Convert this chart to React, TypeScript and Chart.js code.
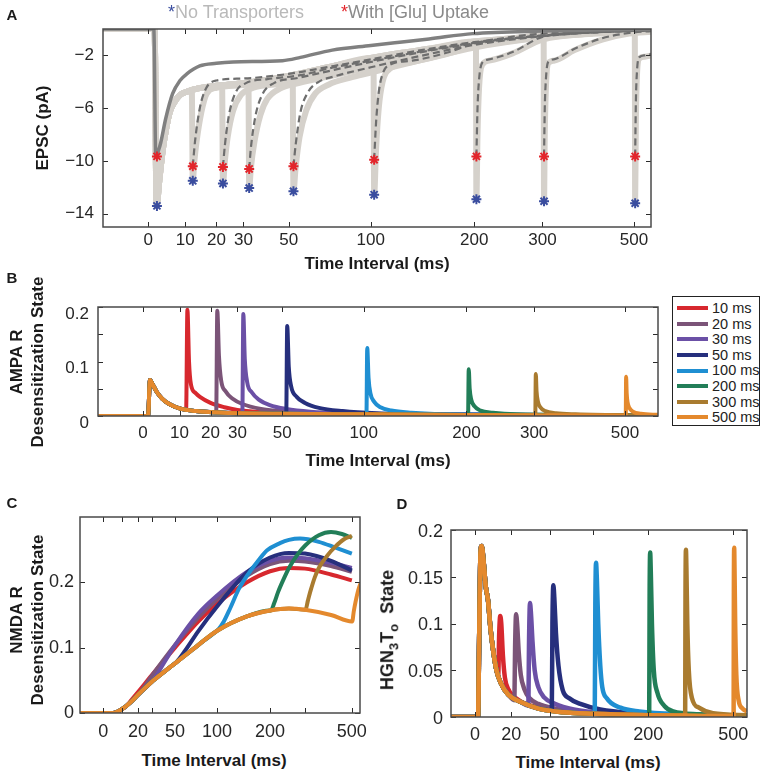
import React, { useEffect, useRef } from "react";
import { Chart, registerables } from "chart.js";

Chart.register(...registerables);

const FONT = '"Liberation Sans", Arial, Helvetica, sans-serif';
Chart.defaults.font.family = FONT;

type Pt = [number, number];

// ---------- shared ----------
const SHIFT = 50; // time axes are logarithmic in (time + 50 ms)
const INTERVALS = [10, 20, 30, 50, 100, 200, 300, 500];
const SERIES_NAMES = INTERVALS.map((i) => `${i} ms`);
const SERIES_COLORS = ["#d7282e", "#7b5478", "#6b50a6", "#262f7d", "#1f8fd2", "#227e58", "#a97b2f", "#e4892d"];
const X_TICKS_FULL = [0, 10, 20, 30, 50, 100, 200, 300, 500];
const X_LABELS_SPARSE = [0, 20, 50, 100, 200, 500];

// ---------- A : EPSC ----------
const A_Y_TICKS = [-2, -6, -10, -14];
const A_PEAK_TIMES = [2.2, 12.3, 22.3, 32.3, 52.4, 102.5, 202.6, 302.7, 503];
const A_PEAK_NO_TRANSPORTERS = [-13.4, -11.5, -11.7, -12.05, -12.3, -12.55, -12.9, -13.05, -13.2];
const A_PEAK_UPTAKE = [-9.65, -10.4, -10.45, -10.6, -10.4, -9.9, -9.65, -9.65, -9.65];

const A_NT_FIRST: Pt[] = [[-10, 0], [1.6, 0], [2.1, -13.4], [2.8, -11.5], [3.7, -9.2], [4.6, -7.6], [5.6, -6.3], [7, -5.5], [8.5, -5.0], [10.5, -4.75], [14, -4.5], [20, -4.3], [30, -4.1], [40, -3.85], [50, -3.55], [75, -2.8], [100, -2.2], [125, -1.8], [150, -1.5], [200, -0.95], [250, -0.7], [300, -0.5], [400, -0.3], [500, -0.2], [550, -0.15]];
const A_NT_10: Pt[] = [[12, -4.65], [12.3, -11.5], [12.8, -10], [13.5, -8.5], [15, -6.3], [16.7, -4.9], [20, -4.45], [30, -4.25], [50, -3.8], [75, -3.1], [100, -2.5], [150, -1.7], [200, -1.1], [300, -0.55], [400, -0.3], [550, -0.15]];
const A_NT_20: Pt[] = [[22, -4.25], [22.3, -11.7], [23, -10], [24, -8.2], [26, -6.2], [29, -5], [34, -4.45], [45, -4.15], [60, -3.6], [80, -3], [100, -2.6], [150, -1.8], [200, -1.2], [300, -0.6], [400, -0.3], [550, -0.15]];
const A_NT_30: Pt[] = [[32, -4.08], [32.3, -12.05], [33, -10.5], [34.5, -8.5], [37, -6.5], [40, -5.3], [46, -4.5], [55, -4.1], [75, -3.5], [100, -2.9], [150, -1.9], [200, -1.3], [300, -0.6], [400, -0.3], [550, -0.15]];
const A_NT_50: Pt[] = [[52, -3.5], [52.4, -12.3], [53.5, -10.5], [55.5, -8.2], [59, -6.2], [64, -4.9], [72, -4.2], [85, -3.7], [100, -3.3], [150, -2.2], [200, -1.4], [300, -0.65], [400, -0.35], [550, -0.15]];
const A_NT_100: Pt[] = [[102, -2.2], [102.5, -12.55], [104, -9], [106, -6], [109, -4], [115, -3], [134, -2.5], [168, -1.9], [200, -1.3], [250, -0.8], [300, -0.5], [400, -0.3], [550, -0.15]];
const A_NT_200: Pt[] = [[202, -0.95], [202.6, -12.9], [204, -8], [206, -4.4], [210, -2.7], [219, -2.4], [252, -1.85], [300, -0.8], [400, -0.35], [550, -0.15]];
const A_NT_300: Pt[] = [[302, -0.5], [302.7, -13.05], [304, -8], [306, -4.5], [310, -2.6], [320, -2.4], [360, -1.6], [420, -0.8], [487, -0.35], [550, -0.2]];
const A_NT_500: Pt[] = [[502, -0.2], [503, -13.2], [505, -7], [508, -3.5], [514, -2.25], [530, -2.1], [550, -2.0]];
const A_NT_SECOND = [A_NT_10, A_NT_20, A_NT_30, A_NT_50, A_NT_100, A_NT_200, A_NT_300, A_NT_500];

const A_UP_FIRST: Pt[] = [[-10, 0], [1.4, 0], [1.9, -9.65], [2.6, -9.2], [3.2, -8.6], [4.5, -6.8], [6.4, -4.9], [8.5, -3.9], [10.5, -3.4], [14.5, -2.8], [20, -2.6], [26, -2.5], [47, -2.4], [56, -2.15], [74, -1.6], [100, -1.25], [123, -1.0], [150, -0.75], [198, -0.35], [300, -0.15], [400, -0.08], [550, -0.03]];
// uptake responses after the second pulse (start at the red-marked peak)
const A_UP_10: Pt[] = [[12.3, -10.4], [13, -8.5], [14.5, -6], [16.5, -4.5], [20, -3.9], [30, -3.75], [50, -3.4], [75, -2.8], [100, -2.3], [150, -1.5], [200, -1.0], [300, -0.5], [400, -0.25], [550, -0.1]];
const A_UP_20: Pt[] = [[22.3, -10.45], [23, -8.8], [24.5, -6.5], [27, -4.8], [31, -4.1], [40, -3.8], [56, -3.5], [75, -2.9], [100, -2.4], [150, -1.6], [200, -1.05], [300, -0.5], [400, -0.25], [550, -0.1]];
const A_UP_30: Pt[] = [[32.3, -10.6], [33, -9], [35, -6.5], [38, -4.9], [43, -4.1], [55, -3.7], [75, -3.1], [100, -2.5], [150, -1.65], [200, -1.1], [300, -0.5], [400, -0.25], [550, -0.1]];
const A_UP_50: Pt[] = [[52.4, -10.4], [53.5, -8.8], [56, -6.3], [60, -4.8], [66, -4.0], [75, -3.6], [100, -2.9], [150, -1.9], [200, -1.2], [300, -0.55], [400, -0.25], [550, -0.1]];
const A_UP_100: Pt[] = [[102.5, -9.9], [104, -7], [106, -4.8], [109, -3.4], [115, -2.7], [134, -2.4], [168, -1.8], [200, -1.1], [250, -0.6], [300, -0.35], [400, -0.2], [550, -0.1]];
const A_UP_200: Pt[] = [[202.6, -9.65], [204, -6], [206, -3.8], [210, -2.55], [219, -2.3], [252, -1.75], [300, -0.6], [400, -0.25], [550, -0.1]];
const A_UP_300: Pt[] = [[302.7, -9.65], [304, -6], [306, -3.8], [310, -2.5], [320, -2.3], [360, -1.5], [420, -0.7], [487, -0.3], [550, -0.15]];
const A_UP_500: Pt[] = [[503, -9.65], [505, -5.5], [508, -3.2], [514, -2.15], [530, -2.0], [550, -1.9]];
const A_UP_SECOND = [A_UP_10, A_UP_20, A_UP_30, A_UP_50, A_UP_100, A_UP_200, A_UP_300, A_UP_500];

// ---------- B : AMPA R desensitization ----------
const B_Y_TICKS = [0, 0.05, 0.1, 0.15, 0.2];
const B_Y_LABELS = [0, 0.1, 0.2];
const B_FIRST: Pt[] = [[-10, 0], [1.3, 0], [1.8, 0.066], [2.5, 0.058], [3.5, 0.045], [5, 0.032], [7, 0.022], [10, 0.014], [15, 0.009], [25, 0.006], [50, 0.004], [100, 0.003], [200, 0.002], [300, 0.0015], [600, 0.001]];
const B_10: Pt[] = [[12, 0.012], [12.4, 0.195], [12.9, 0.1], [13.5, 0.058], [15, 0.042], [16.4, 0.035], [20, 0.024], [25, 0.016], [30, 0.011], [40, 0.007], [60, 0.004], [100, 0.003], [200, 0.002], [600, 0.001]];
const B_20: Pt[] = [[22, 0.007], [22.4, 0.193], [23, 0.11], [23.8, 0.065], [25.5, 0.045], [28, 0.032], [32, 0.022], [40, 0.013], [50, 0.009], [70, 0.005], [100, 0.003], [200, 0.002], [600, 0.001]];
const B_30: Pt[] = [[32, 0.005], [32.4, 0.187], [33, 0.105], [34, 0.062], [36, 0.043], [39, 0.03], [44, 0.02], [52, 0.013], [65, 0.008], [90, 0.005], [150, 0.003], [600, 0.001]];
const B_50: Pt[] = [[52, 0.004], [52.5, 0.165], [53.3, 0.09], [54.5, 0.055], [57.5, 0.035], [62, 0.024], [70, 0.015], [85, 0.009], [110, 0.005], [170, 0.003], [600, 0.001]];
const B_100: Pt[] = [[102, 0.003], [102.6, 0.125], [103.6, 0.07], [105, 0.042], [108, 0.026], [113, 0.016], [122, 0.01], [140, 0.006], [180, 0.003], [600, 0.001]];
const B_200: Pt[] = [[202, 0.002], [202.8, 0.086], [204, 0.05], [206, 0.03], [210, 0.018], [218, 0.01], [235, 0.006], [270, 0.003], [600, 0.001]];
const B_300: Pt[] = [[302, 0.0015], [302.9, 0.077], [304.2, 0.045], [306.5, 0.027], [311, 0.016], [320, 0.009], [340, 0.005], [380, 0.003], [600, 0.001]];
const B_500: Pt[] = [[502, 0.001], [503, 0.072], [504.5, 0.042], [507, 0.025], [512, 0.015], [522, 0.008], [545, 0.004], [600, 0.002]];
const B_SECOND = [B_10, B_20, B_30, B_50, B_100, B_200, B_300, B_500];

// ---------- C : NMDA R desensitization ----------
const C_Y_TICKS = [0, 0.1, 0.2];
const C_FIRST: Pt[] = [[-10, 0], [5, 0], [10, 0.006], [15, 0.016], [20, 0.028], [30, 0.048], [40, 0.063], [50, 0.076], [75, 0.104], [100, 0.126], [150, 0.148], [200, 0.157], [250, 0.16], [300, 0.158], [400, 0.15], [500, 0.14]];
const C_10: Pt[] = [[-10, 0], [5, 0], [10, 0.006], [12, 0.009], [15, 0.018], [20, 0.032], [30, 0.058], [50, 0.1], [75, 0.14], [100, 0.167], [150, 0.2], [200, 0.217], [250, 0.222], [300, 0.221], [400, 0.212], [500, 0.203]];
const C_20: Pt[] = [[-10, 0], [5, 0], [10, 0.006], [15, 0.016], [20, 0.028], [22, 0.033], [30, 0.057], [50, 0.104], [75, 0.146], [100, 0.174], [150, 0.21], [200, 0.228], [250, 0.233], [300, 0.232], [400, 0.225], [500, 0.216]];
const C_30: Pt[] = [[-10, 0], [5, 0], [10, 0.006], [15, 0.016], [20, 0.028], [30, 0.048], [32, 0.053], [40, 0.077], [50, 0.104], [75, 0.152], [100, 0.18], [150, 0.216], [200, 0.233], [250, 0.238], [300, 0.237], [400, 0.23], [500, 0.222]];
const C_50: Pt[] = [[-10, 0], [5, 0], [10, 0.006], [15, 0.016], [20, 0.028], [30, 0.048], [40, 0.063], [50, 0.076], [52, 0.079], [60, 0.095], [75, 0.125], [100, 0.163], [150, 0.215], [200, 0.238], [250, 0.245], [300, 0.244], [400, 0.233], [500, 0.218]];
const C_100: Pt[] = [[102, 0.128], [110, 0.14], [120, 0.16], [135, 0.19], [150, 0.21], [175, 0.235], [193, 0.249], [225, 0.26], [250, 0.265], [284, 0.267], [350, 0.262], [420, 0.253], [500, 0.244]];
const C_200: Pt[] = [[202, 0.157], [210, 0.168], [220, 0.185], [235, 0.205], [250, 0.222], [275, 0.242], [300, 0.256], [350, 0.272], [400, 0.277], [450, 0.274], [500, 0.268]];
const C_300: Pt[] = [[302, 0.158], [310, 0.172], [320, 0.188], [335, 0.208], [350, 0.222], [382, 0.24], [420, 0.255], [460, 0.266], [500, 0.271]];
const C_500: Pt[] = [[502, 0.14], [510, 0.155], [520, 0.17], [535, 0.188], [550, 0.2]];

// ---------- D : HGN3To state ----------
const D_Y_TICKS = [0, 0.05, 0.1, 0.15, 0.2];
const D_FIRST: Pt[] = [[-10, 0], [1.4, 0], [2, 0.09], [2.6, 0.175], [3.2, 0.183], [4.2, 0.165], [5.2, 0.14], [6.4, 0.125], [7.7, 0.095], [9.1, 0.072], [11, 0.05], [13.6, 0.036], [18, 0.024], [26.5, 0.016], [40, 0.009], [64, 0.005], [100, 0.0035], [200, 0.002], [300, 0.0015], [500, 0.001]];
const D_10: Pt[] = [[12, 0.044], [12.6, 0.09], [13.2, 0.108], [13.8, 0.1], [14.8, 0.065], [16, 0.042], [18, 0.03], [21, 0.023], [26, 0.017], [32, 0.013], [45, 0.009], [70, 0.005], [120, 0.003], [250, 0.0018], [575, 0.001]];
const D_20: Pt[] = [[22, 0.018], [22.6, 0.08], [23.2, 0.11], [23.9, 0.1], [25, 0.07], [26.5, 0.045], [29, 0.03], [33, 0.02], [40, 0.014], [55, 0.009], [80, 0.005], [150, 0.003], [300, 0.0015], [575, 0.001]];
const D_30: Pt[] = [[32, 0.012], [32.6, 0.085], [33.3, 0.122], [34, 0.112], [35.3, 0.08], [37, 0.05], [40, 0.032], [45, 0.021], [55, 0.014], [75, 0.008], [120, 0.004], [300, 0.0018], [575, 0.001]];
const D_50: Pt[] = [[52, 0.007], [52.6, 0.1], [53.5, 0.141], [54.4, 0.128], [56, 0.09], [58.5, 0.055], [62.8, 0.029], [70, 0.02], [83, 0.014], [110, 0.008], [170, 0.004], [300, 0.002], [575, 0.001]];
const D_100: Pt[] = [[102, 0.004], [102.8, 0.12], [103.8, 0.165], [105, 0.148], [107, 0.1], [110, 0.055], [113, 0.032], [120, 0.02], [143, 0.01], [180, 0.006], [300, 0.003], [575, 0.0015]];
const D_200: Pt[] = [[202, 0.002], [203, 0.13], [204.3, 0.176], [205.8, 0.155], [208.5, 0.1], [213, 0.05], [222, 0.026], [240, 0.012], [265, 0.006], [350, 0.003], [575, 0.0015]];
const D_300: Pt[] = [[302, 0.0015], [303, 0.13], [304.5, 0.179], [306, 0.16], [309, 0.1], [314, 0.05], [325, 0.02], [350, 0.01], [406, 0.004], [575, 0.002]];
const D_500: Pt[] = [[502, 0.001], [503.2, 0.13], [504.8, 0.181], [506.5, 0.16], [510, 0.1], [516, 0.045], [528, 0.018], [550, 0.009], [575, 0.006]];
const D_SECOND = [D_10, D_20, D_30, D_50, D_100, D_200, D_300, D_500];

// ---------- helpers ----------
const toXY = (arr: Pt[]) => arr.map(([t, v]) => ({ x: t + SHIFT, y: v }));
const splice = (first: Pt[], second: Pt[]) => [...first.filter((p) => p[0] < second[0][0]), ...second];

function makeFrame(xTicks: number[], yTicks: number[]) {
  return {
    id: "frame",
    afterDatasetsDraw(chart: any) {
      const { ctx, chartArea: ca, scales } = chart;
      ctx.save();
      ctx.strokeStyle = "#2b2b2b";
      ctx.lineWidth = 1;
      ctx.beginPath();
      for (const t of xTicks) {
        const px = Math.round(scales.x.getPixelForValue(t + SHIFT)) + 0.5;
        ctx.moveTo(px, ca.bottom);
        ctx.lineTo(px, ca.bottom - 5);
        ctx.moveTo(px, ca.top);
        ctx.lineTo(px, ca.top + 5);
      }
      for (const v of yTicks) {
        const py = Math.round(scales.y.getPixelForValue(v)) + 0.5;
        ctx.moveTo(ca.left, py);
        ctx.lineTo(ca.left + 5, py);
        ctx.moveTo(ca.right, py);
        ctx.lineTo(ca.right - 5, py);
      }
      ctx.stroke();
      ctx.lineWidth = 1.5;
      ctx.strokeStyle = "#4a4a4a";
      ctx.strokeRect(ca.left, ca.top, ca.right - ca.left, ca.bottom - ca.top);
      ctx.restore();
    },
  };
}

type Spec = {
  datasets: any[];
  padding: any;
  xMax: number;
  xTicks: number[];
  xLabels: number[];
  yMin: number;
  yMax: number;
  yTicks: number[];
  yFmt: (v: number) => string;
  yWidth: number;
  xHeight: number;
  font: number;
  xPad: number;
  yPad: number;
  yOffset: number;
};

function buildConfig(s: Spec): any {
  // later datasets are painted on top of earlier ones
  const datasets = s.datasets.map((d, i) => ({ ...d, order: -i }));
  return {
    type: "line",
    data: { datasets },
    plugins: [makeFrame(s.xTicks, s.yTicks)],
    options: {
      responsive: false,
      animation: false,
      events: [],
      layout: { padding: s.padding },
      plugins: { legend: { display: false }, tooltip: { enabled: false } },
      elements: {
        point: { radius: 0 },
        line: { cubicInterpolationMode: "monotone", borderCapStyle: "butt", borderJoinStyle: "round" },
      },
      scales: {
        x: {
          type: "logarithmic",
          min: -10 + SHIFT,
          max: s.xMax + SHIFT,
          grid: { display: false, drawTicks: false },
          border: { display: false },
          afterBuildTicks: (sc: any) => {
            sc.ticks = s.xTicks.map((t) => ({ value: t + SHIFT }));
          },
          afterFit: (sc: any) => {
            sc.height = s.xHeight;
          },
          ticks: {
            autoSkip: false,
            maxRotation: 0,
            minRotation: 0,
            padding: s.xPad,
            color: "#262626",
            font: { size: s.font },
            callback: (v: any) => {
              const t = Math.round(Number(v) - SHIFT);
              return s.xLabels.includes(t) ? String(t) : "";
            },
          },
        },
        y: {
          type: "linear",
          min: s.yMin,
          max: s.yMax,
          grid: { display: false, drawTicks: false },
          border: { display: false },
          afterBuildTicks: (sc: any) => {
            sc.ticks = s.yTicks.map((v) => ({ value: v }));
          },
          afterFit: (sc: any) => {
            sc.width = s.yWidth;
          },
          ticks: {
            padding: s.yPad,
            labelOffset: s.yOffset,
            color: "#262626",
            font: { size: s.font },
            callback: (v: any) => s.yFmt(Number(v)),
          },
        },
      },
    },
  };
}

const fmtNum = (v: number) => (Math.abs(v) < 1e-9 ? "0" : String(+v.toFixed(2)));
const fmtNeg = (v: number) => (v < 0 ? "\u2212" + String(Math.abs(v)) : String(v));

// ---------- panel builders ----------
function configA() {
  const datasets: any[] = [];
  A_NT_SECOND.forEach((sec) => {
    datasets.push({ data: toXY(splice(A_NT_FIRST, sec)), borderColor: "#d5d1cb", borderWidth: 6 });
  });
  A_UP_SECOND.forEach((sec) => {
    datasets.push({ data: toXY(sec), borderColor: "#6e6e6e", borderWidth: 2.2, borderDash: [7, 4] });
  });
  datasets.push({ data: toXY(A_UP_FIRST), borderColor: "#808080", borderWidth: 3.5 });
  datasets.push({
    data: toXY(A_PEAK_TIMES.map((t, i) => [t, A_PEAK_UPTAKE[i]] as Pt)),
    showLine: false,
    pointStyle: "star",
    pointRadius: 5,
    borderColor: "#e3252b",
    borderWidth: 2,
  });
  datasets.push({
    data: toXY(A_PEAK_TIMES.map((t, i) => [t, A_PEAK_NO_TRANSPORTERS[i]] as Pt)),
    showLine: false,
    pointStyle: "star",
    pointRadius: 5,
    borderColor: "#3a4d9f",
    borderWidth: 2,
  });
  return buildConfig({
    datasets,
    padding: { top: 29, right: 116, left: 0, bottom: 0 },
    xMax: 548,
    xTicks: X_TICKS_FULL,
    xLabels: X_TICKS_FULL,
    yMin: -15,
    yMax: 0,
    yTicks: A_Y_TICKS,
    yFmt: fmtNeg,
    yWidth: 103,
    xHeight: 28,
    font: 17,
    xPad: 3,
    yPad: 9,
    yOffset: 0,
  });
}

function configB() {
  const datasets = B_SECOND.map((sec, i) => ({
    data: toXY(splice(B_FIRST, sec)),
    borderColor: SERIES_COLORS[i],
    borderWidth: 4,
  }));
  return buildConfig({
    datasets,
    padding: { top: 47, right: 109, left: 0, bottom: 0 },
    xMax: 598,
    xTicks: X_TICKS_FULL,
    xLabels: X_TICKS_FULL,
    yMin: 0,
    yMax: 0.2,
    yTicks: B_Y_TICKS,
    yFmt: (v) => (B_Y_LABELS.some((l) => Math.abs(l - v) < 1e-9) ? fmtNum(v) : ""),
    yWidth: 98,
    xHeight: 30,
    font: 17,
    xPad: 7,
    yPad: 9,
    yOffset: 7,
  });
}

function configC() {
  const full = [C_10, C_20, C_30, C_50, splice(C_FIRST, C_100), splice(C_FIRST, C_200), splice(C_FIRST, C_300), splice(C_FIRST, C_500)];
  const datasets = full.map((d, i) => ({ data: toXY(d), borderColor: SERIES_COLORS[i], borderWidth: 4 }));
  return buildConfig({
    datasets,
    padding: { top: 47, right: 20, left: 0, bottom: 0 },
    xMax: 545,
    xTicks: X_TICKS_FULL,
    xLabels: X_LABELS_SPARSE,
    yMin: 0,
    yMax: 0.3,
    yTicks: C_Y_TICKS,
    yFmt: fmtNum,
    yWidth: 80,
    xHeight: 30,
    font: 18,
    xPad: 8,
    yPad: 6,
    yOffset: 0,
  });
}

function configD() {
  const datasets = D_SECOND.map((sec, i) => ({
    data: toXY(splice(D_FIRST, sec)),
    borderColor: SERIES_COLORS[i],
    borderWidth: 4.5,
  }));
  return buildConfig({
    datasets,
    padding: { top: 60, right: 20, left: 0, bottom: 0 },
    xMax: 575,
    xTicks: X_LABELS_SPARSE,
    xLabels: X_LABELS_SPARSE,
    yMin: 0,
    yMax: 0.2,
    yTicks: D_Y_TICKS,
    yFmt: fmtNum,
    yWidth: 71,
    xHeight: 30,
    font: 18,
    xPad: 7,
    yPad: 8,
    yOffset: 2,
  });
}

// ---------- components ----------
function ChartCanvas({ left, top, width, height, build }: any) {
  const ref = useRef<HTMLCanvasElement | null>(null);
  useEffect(() => {
    const chart = new Chart(ref.current as HTMLCanvasElement, build());
    return () => chart.destroy();
  }, []);
  return (
    <canvas
      ref={ref}
      width={width}
      height={height}
      style={{ position: "absolute", left, top, width, height }}
    />
  );
}

function Label({ x, y, size = 17, bold = true, rotate = false, color = "#1a1a1a", lineHeight, children }: any) {
  return (
    <div
      style={{
        position: "absolute",
        left: x,
        top: y,
        transform: `translate(-50%, -50%)${rotate ? " rotate(-90deg)" : ""}`,
        fontFamily: FONT,
        fontSize: size,
        fontWeight: bold ? 700 : 400,
        lineHeight: lineHeight ? `${lineHeight}px` : 1,
        whiteSpace: "pre",
        textAlign: "center",
        color,
        pointerEvents: "none",
      }}
    >
      {children}
    </div>
  );
}

function Legend() {
  return (
    <div
      style={{
        position: "absolute",
        left: 672,
        top: 296,
        width: 86,
        height: 128,
        border: "1px solid #222",
        background: "#fff",
        overflow: "hidden",
      }}
    >
      {SERIES_NAMES.map((name, i) => (
        <div
          key={name}
          style={{
            position: "absolute",
            left: 4,
            top: 3.5 + i * 15.6,
            height: 15.6,
            display: "flex",
            alignItems: "center",
            whiteSpace: "nowrap",
          }}
        >
          <div style={{ width: 31, height: 4, background: SERIES_COLORS[i], marginRight: 4 }} />
          <span style={{ fontFamily: FONT, fontSize: 14.5, color: "#222", lineHeight: 1 }}>{name}</span>
        </div>
      ))}
    </div>
  );
}

export default function App() {
  return (
    <div style={{ position: "absolute", left: 0, top: 0, width: 767, height: 776, background: "#fff", overflow: "hidden" }}>
      <ChartCanvas left={0} top={0} width={767} height={255} build={configA} />
      <ChartCanvas left={0} top={260} width={767} height={186} build={configB} />
      <ChartCanvas left={0} top={470} width={380} height={273} build={configC} />
      <ChartCanvas left={380} top={470} width={387} height={277} build={configD} />

      {/* panel A header legend */}
      <div style={{ position: "absolute", left: 168, top: 3, fontFamily: FONT, fontSize: 18, lineHeight: "18px", whiteSpace: "pre", color: "#b9b9b9" }}>
        <span style={{ color: "#3a4d9f" }}>*</span>No Transporters
      </div>
      <div style={{ position: "absolute", left: 341, top: 3, fontFamily: FONT, fontSize: 18, lineHeight: "18px", whiteSpace: "pre", color: "#8a8a8a" }}>
        <span style={{ color: "#e3252b" }}>*</span>With [Glu] Uptake
      </div>

      <Legend />

      {/* panel letters */}
      <Label x={12} y={14} size={15}>A</Label>
      <Label x={12} y={277} size={15}>B</Label>
      <Label x={12} y={502} size={15}>C</Label>
      <Label x={402} y={503} size={15}>D</Label>

      {/* x axis titles */}
      <Label x={377} y={263}>Time Interval (ms)</Label>
      <Label x={378} y={460}>Time Interval (ms)</Label>
      <Label x={214} y={760}>Time Interval (ms)</Label>
      <Label x={588} y={762}>Time Interval (ms)</Label>

      {/* y axis titles */}
      <Label x={42} y={128} rotate>EPSC (pA)</Label>
      <Label x={27} y={362} rotate lineHeight={21}>{"AMPA R\nDesensitization State"}</Label>
      <Label x={27} y={620} rotate lineHeight={21}>{"NMDA R\nDesensitization State"}</Label>
      <Label x={389} y={630} rotate size={18}>
        <span>
          HGN<sub style={{ fontSize: 13 }}>3</sub>T<sub style={{ fontSize: 13 }}>o</sub>{"  State"}
        </span>
      </Label>
    </div>
  );
}
